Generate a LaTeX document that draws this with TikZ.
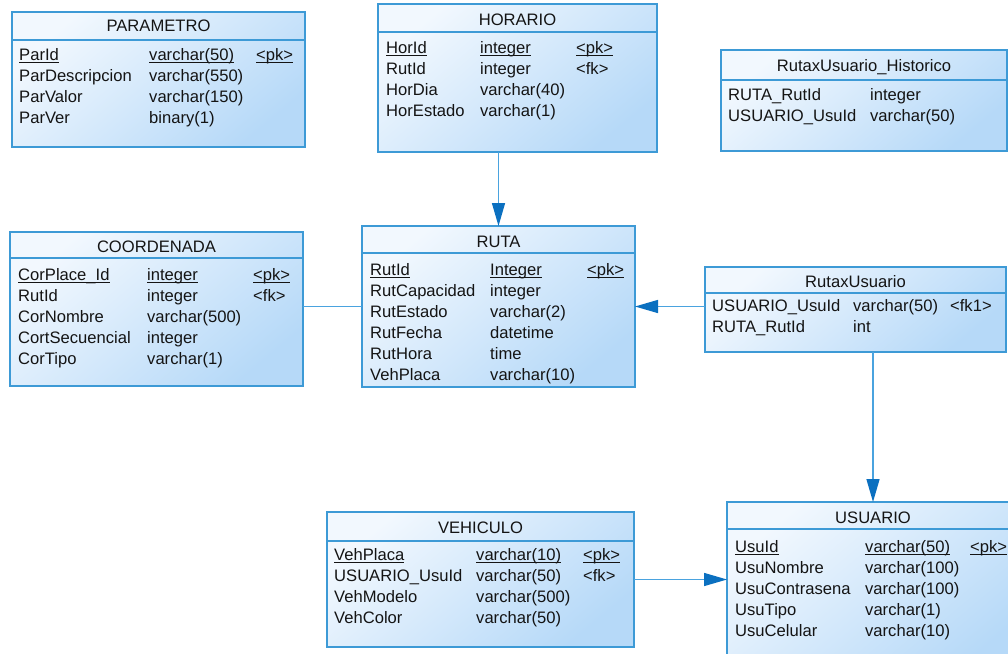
\documentclass[tikz,border=0pt]{standalone}
\usepackage{fontspec}
\setmainfont{Liberation Sans}
\usetikzlibrary{arrows.meta}

\definecolor{tblborder}{HTML}{3D9AD6}
\definecolor{tbllight}{HTML}{F2F8FE}
\definecolor{tbldark}{HTML}{B6D9F8}
\definecolor{connline}{HTML}{4AA3DF}
\definecolor{conntip}{HTML}{0B70C0}
\definecolor{ink}{HTML}{141414}

% primary-key cells: text with a rule just under the baseline
\newcommand\pkcell[1]{\leavevmode\setbox0\hbox{#1}\rlap{\rule[-2.6pt]{\wd0}{1.1pt}}\box0}
% column layout of the attribute lists
\newcommand\cols[2]{@{}p{#1pt}@{}p{#2pt}@{}l@{}}

\tikzset{
  tbl/.style={draw=tblborder, line width=1.3pt, inner sep=0pt, outer sep=0pt,
    rectangle, top color=tbllight, bottom color=tbldark, shading angle=40},
  divider/.style={draw=tblborder, line width=1.3pt},
  ttl/.style={anchor=base, inner sep=0pt, text=ink},
  attrs/.style={anchor=base west, inner sep=0pt, text=ink},
  conn/.style={draw=connline, line width=1.4pt},
  tip/.style={-{Triangle[length=23pt,width=13pt,color=conntip]}},
}

\begin{document}
\begin{tikzpicture}[x=1pt, y=-1pt,
  every node/.append style={font=\fontsize{16.6}{21}\selectfont}]
\useasboundingbox (0,0) rectangle (1008,653);
\clip (0,0) rectangle (1008,653);
\fill[white] (0,0) rectangle (1008,653);

% ---- PARAMETRO
\node[tbl, minimum width=293pt, minimum height=135pt] (parametro) at (158.5,79.5) {};
\draw[divider] (12,40) -- (305,40);
\node[ttl] (parametroT) at (158.5,31) {PARAMETRO};
\node[attrs] (parametroA) at (19,60) {\begin{tabular}[t]{\cols{130}{107}}
\pkcell{ParId} & \pkcell{varchar(50)} & \pkcell{<pk>}\\
ParDescripcion & varchar(550) & \\
ParValor & varchar(150) & \\
ParVer & binary(1) &
\end{tabular}};

% ---- HORARIO
\node[tbl, minimum width=279pt, minimum height=148pt] (horario) at (517.5,78) {};
\draw[divider] (378,32) -- (657,32);
\node[ttl] (horarioT) at (517.5,25) {HORARIO};
\node[attrs] (horarioA) at (386,53) {\begin{tabular}[t]{\cols{94}{96}}
\pkcell{HorId} & \pkcell{integer} & \pkcell{<pk>}\\
RutId & integer & <fk>\\
HorDia & varchar(40) & \\
HorEstado & varchar(1) &
\end{tabular}};

% ---- RutaxUsuario_Historico
\node[tbl, minimum width=286pt, minimum height=101pt] (historico) at (864,100.5) {};
\draw[divider] (721,80) -- (1007,80);
\node[ttl] (historicoT) at (864,71.5) {RutaxUsuario\_Historico};
\node[attrs] (historicoA) at (728,100) {\begin{tabular}[t]{@{}p{142pt}@{}l@{}}
RUTA\_RutId & integer\\
USUARIO\_UsuId & varchar(50)
\end{tabular}};

% ---- COORDENADA
\node[tbl, minimum width=293pt, minimum height=154pt] (coordenada) at (156.5,309) {};
\draw[divider] (10,258) -- (303,258);
\node[ttl] (coordenadaT) at (156.5,252) {COORDENADA};
\node[attrs] (coordenadaA) at (18,280) {\begin{tabular}[t]{\cols{129}{106}}
\pkcell{CorPlace\_Id} & \pkcell{integer} & \pkcell{<pk>}\\
RutId & integer & <fk>\\
CorNombre & varchar(500) & \\
CortSecuencial & integer & \\
CorTipo & varchar(1) &
\end{tabular}};

% ---- RUTA
\node[tbl, minimum width=273pt, minimum height=161pt] (ruta) at (498.5,306.5) {};
\draw[divider] (362,253) -- (635,253);
\node[ttl] (rutaT) at (498.5,247) {RUTA};
\node[attrs] (rutaA) at (370,275) {\begin{tabular}[t]{\cols{120}{97}}
\pkcell{RutId} & \pkcell{Integer} & \pkcell{<pk>}\\
RutCapacidad & integer & \\
RutEstado & varchar(2) & \\
RutFecha & datetime & \\
RutHora & time & \\
VehPlaca & varchar(10) &
\end{tabular}};

% ---- RutaxUsuario
\node[tbl, minimum width=301pt, minimum height=85pt] (rutaxusuario) at (855.5,309.5) {};
\draw[divider] (705,293) -- (1006,293);
\node[ttl] (rutaxusuarioT) at (855.5,287) {RutaxUsuario};
\node[attrs] (rutaxusuarioA) at (712,311) {\begin{tabular}[t]{\cols{141}{97}}
USUARIO\_UsuId & varchar(50) & <fk1>\\
RUTA\_RutId & int &
\end{tabular}};

% ---- VEHICULO
\node[tbl, minimum width=307pt, minimum height=135pt] (vehiculo) at (480.5,579.5) {};
\draw[divider] (327,541) -- (634,541);
\node[ttl] (vehiculoT) at (480.5,533) {VEHICULO};
\node[attrs] (vehiculoA) at (334,560) {\begin{tabular}[t]{\cols{142}{107}}
\pkcell{VehPlaca} & \pkcell{varchar(10)} & \pkcell{<pk>}\\
USUARIO\_UsuId & varchar(50) & <fk>\\
VehModelo & varchar(500) & \\
VehColor & varchar(50) &
\end{tabular}};

% ---- USUARIO
\node[tbl, minimum width=292pt, minimum height=178pt] (usuario) at (873,591) {};
\draw[divider] (727,529) -- (1019,529);
\node[ttl] (usuarioT) at (873,523) {USUARIO};
\node[attrs] (usuarioA) at (735,552) {\begin{tabular}[t]{\cols{130}{105}}
\pkcell{UsuId} & \pkcell{varchar(50)} & \pkcell{<pk>}\\
UsuNombre & varchar(100) & \\
UsuContrasena & varchar(100) & \\
UsuTipo & varchar(1) & \\
UsuCelular & varchar(10) &
\end{tabular}};

% ---- references
\draw[conn, tip] (ruta.north |- horario.south) -- (ruta.north);
\draw[conn] (coordenada.east |- ruta.west) -- (ruta.west);
\draw[conn, tip] (rutaxusuario.west |- ruta.east) -- (ruta.east);
\draw[conn, tip] ([xshift=17.5pt]rutaxusuario.south) -- ([xshift=17.5pt]rutaxusuario.south |- usuario.north);
\draw[conn, tip] (vehiculo.east) -- (vehiculo.east -| usuario.west);
\end{tikzpicture}
\end{document}
